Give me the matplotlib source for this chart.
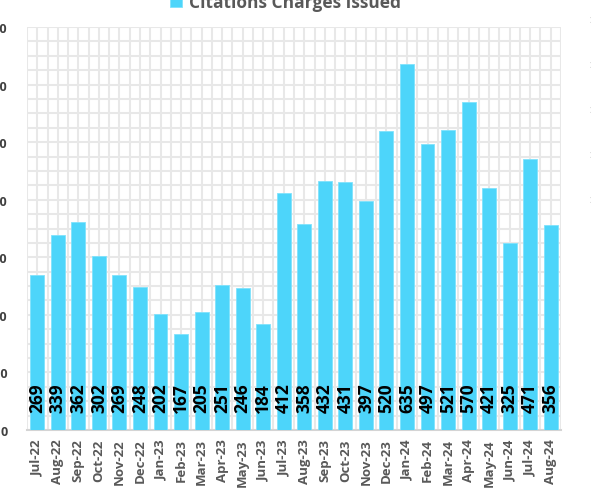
import matplotlib
matplotlib.use('Agg')
import matplotlib.pyplot as plt
from matplotlib.ticker import MultipleLocator, FixedLocator
import numpy as np

# data
months = ['Jul-22', 'Aug-22', 'Sep-22', 'Oct-22', 'Nov-22', 'Dec-22', 'Jan-23',
          'Feb-23', 'Mar-23', 'Apr-23', 'May-23', 'Jun-23', 'Jul-23', 'Aug-23',
          'Sep-23', 'Oct-23', 'Nov-23', 'Dec-23', 'Jan-24', 'Feb-24', 'Mar-24',
          'Apr-24', 'May-24', 'Jun-24', 'Jul-24', 'Aug-24']
citations = [269, 339, 362, 302, 269, 248, 202, 167, 205, 251, 246, 184, 412,
             358, 432, 431, 397, 520, 635, 497, 521, 570, 421, 325, 471, 356]
series_name = 'Citations Charges Issued'

bar_color = '#4DD5FA'
grid_color = '#E8E8E8'
text_gray = '#595959'

plt.rcParams['font.family'] = ['Open Sans', 'DejaVu Sans']

fig = plt.figure(figsize=(5.91, 4.89), dpi=100)
ax = fig.add_axes([27 / 591, 58 / 489, 534 / 591, 403 / 489])

x = np.arange(len(months))
bars = ax.bar(x, citations, width=0.68, color=bar_color, edgecolor='#7FE2FC',
              linewidth=0.6, zorder=3, label=series_name)

# value labels sitting near the base of each bar
for xi, v in zip(x, citations):
    ax.annotate(str(v), (xi, 0), xytext=(0, 13), textcoords='offset points',
                rotation=90, ha='center', va='bottom', fontsize=12.5,
                fontweight='bold', color='black', zorder=4)

ax.set_xlim(-0.5, len(months) - 0.5)
ax.set_ylim(0, 700)

ax.yaxis.set_major_locator(MultipleLocator(100))
ax.yaxis.set_minor_locator(MultipleLocator(25))
ax.xaxis.set_major_locator(FixedLocator(x))
ax.xaxis.set_minor_locator(FixedLocator(np.arange(-0.5, len(months), 1.0)))
ax.set_xticklabels(months, rotation=90, fontsize=9.5, fontweight='bold',
                   color=text_gray)
ax.tick_params(axis='x', which='both', length=0, pad=6)
ax.tick_params(axis='y', which='both', length=0, pad=14, labelsize=9,
               labelcolor='#404040')
for lab in ax.get_yticklabels():
    lab.set_fontweight('bold')

ax.grid(True, which='both', color=grid_color, linewidth=1.5, zorder=0)
ax.set_axisbelow(True)
for s in ['top', 'right', 'left']:
    ax.spines[s].set_visible(False)
ax.spines['bottom'].set_color('#D4D4D4')
ax.spines['bottom'].set_linewidth(1.5)

# legend at the top (cut by the crop)
leg = fig.legend(handles=[bars], labels=[series_name], loc='center',
                 bbox_to_anchor=(0.483, 0.994), frameon=False,
                 handlelength=0.7, handleheight=0.7, handletextpad=0.35,
                 prop={'weight': 'bold', 'size': 12.5})
for t in leg.get_texts():
    t.set_color(text_gray)

# slivers of the neighbouring axis labels on the right edge
for yy in [0.958, 0.866, 0.774, 0.682, 0.590]:
    fig.text(0.9975, yy, ':', fontsize=8, color='#7F7F7F', ha='left',
             va='center', fontweight='bold')

fig.savefig('out.png', dpi=100)
